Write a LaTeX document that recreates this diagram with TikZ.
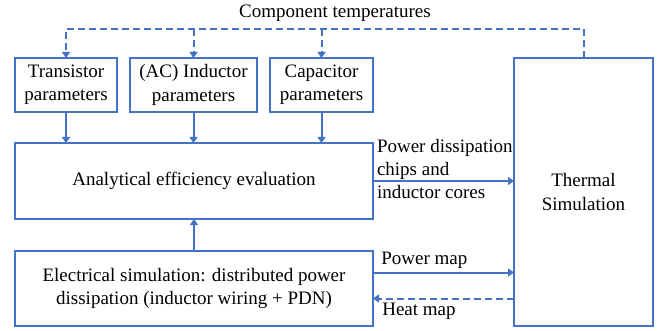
\documentclass[tikz,border=0pt]{standalone}
\usepackage{fontspec}
\setmainfont{Liberation Serif}
\usepackage{xcolor}
\usepackage{tikz}
\usetikzlibrary{positioning, arrows.meta}
\definecolor{boxblue}{RGB}{68,114,196}

\begin{document}
\begin{tikzpicture}[x=1pt, y=1pt,
    block/.style={draw=boxblue, line width=2pt, outer sep=0pt, align=center, inner sep=2pt, font=\fontsize{19}{23.3}\selectfont},
    lbl/.style={font=\fontsize{19}{23.3}\selectfont, align=left},
    flow/.style={draw=boxblue, line width=2pt, -{Triangle[length=6pt, width=8pt]}},
    feedback/.style={flow, dash pattern=on 7pt off 4pt}]
    \useasboundingbox (0,0) rectangle (668,-331);

    	\node[block, minimum width=102pt, minimum height=54pt] (trans) at (66,-85) {Transistor\\parameters};
        \node[block, minimum width=127pt, minimum height=54pt] (induct) [right=13pt of trans] {(AC) Inductor\\parameters};
        \node[block, minimum width=103pt, minimum height=54pt] (capac) [right=13pt of induct] {Capacitor\\parameters};
        \node[block, minimum width=358pt, minimum height=76pt] (anal) [below=31pt of trans.south west, anchor=north west] {Analytical efficiency evaluation};
        \node[block, minimum width=358pt, minimum height=75pt] (elec) [below=32pt of anal] {Electrical simulation: distributed power\\dissipation (inductor wiring + PDN)};
        \node[block, minimum width=139pt, minimum height=268pt] (thermal) [right=141pt of capac.north east, anchor=north west] {Thermal\\Simulation};
    %	\node[lbl] (templabel) above of the bus
        \node[lbl] (templabel) at (335,-13) {Component temperatures};

    % parameters feed the evaluation
    \foreach \p in {trans, induct, capac}
      \draw[flow] (\p) -- (\p |- anal.north);
    \draw[flow] (elec) -- (anal);

    % temperatures back from the thermal model
    \draw[feedback] (thermal.north) -- ++(0,29) coordinate (tempbus) -| (trans.north);
    \foreach \p in {induct, capac}
      \draw[feedback] (\p |- tempbus) -- (\p.north);

    \draw[flow] (anal.east) -- (anal.east -| thermal.west)
      node[lbl, pos=0, anchor=west, yshift=12pt, inner sep=3pt] (powdiss) {Power dissipation\\chips and\\inductor cores};
    \draw[flow] ([yshift=16pt]elec.east) -- ([yshift=16pt]elec.east -| thermal.west)
      node[lbl, pos=0, above right, xshift=4pt] (pmap) {Power map};
    \draw[feedback] ([yshift=-10pt]elec.east -| thermal.west) -- ([yshift=-10pt]elec.east)
      node[lbl, pos=1, below right, xshift=5pt] (hmap) {Heat map};

    \end{tikzpicture}
\end{document}
